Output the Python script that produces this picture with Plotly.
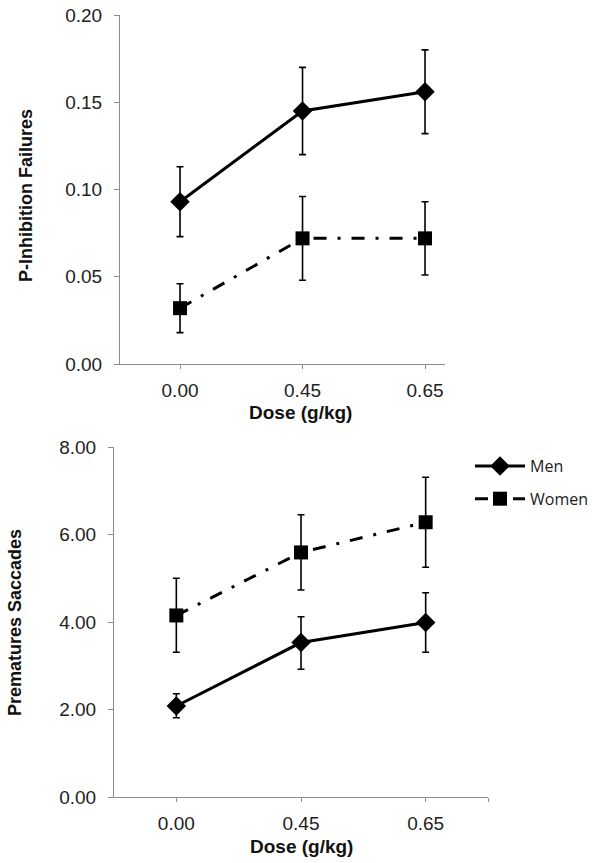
import plotly.graph_objects as go

W, H = 604, 863

doses = ["0.00", "0.45", "0.65"]
xpos = [0, 1, 2]

# Top panel: P-Inhibition Failures
pinh_men = [0.093, 0.145, 0.156]
pinh_men_up = [0.020, 0.025, 0.024]
pinh_men_dn = [0.020, 0.025, 0.024]
pinh_women = [0.032, 0.072, 0.072]
pinh_women_up = [0.014, 0.024, 0.021]
pinh_women_dn = [0.014, 0.024, 0.021]

# Bottom panel: Premature Saccades
sacc_men = [2.08, 3.53, 3.99]
sacc_men_up = [0.28, 0.59, 0.68]
sacc_men_dn = [0.27, 0.61, 0.68]
sacc_women = [4.15, 5.59, 6.28]
sacc_women_up = [0.85, 0.86, 1.03]
sacc_women_dn = [0.84, 0.86, 1.03]

DASHDOT = "13px,11px,3px,11px"
tickfont = dict(family="Liberation Sans, Arial", size=19, color="#222")
ytitlefont = dict(family="Liberation Sans, Arial", size=18, color="#111")
xtitlefont = dict(family="Liberation Sans, Arial", size=19, color="#111")
axcol = "#8c8c8c"

fig = go.Figure()

def add(y, up, dn, name, xa, ya, symbol, dash, show, group):
    fig.add_trace(go.Scatter(
        x=xpos, y=y, name=name, xaxis=xa, yaxis=ya, mode="lines+markers",
        line=dict(color="black", width=3, dash=dash),
        marker=dict(symbol=symbol, size=14 if symbol == "square" else 15, color="black"),
        error_y=dict(type="data", array=up, arrayminus=dn, color="black",
                     thickness=1.6, width=3.5),
        showlegend=show, legendgroup=group, cliponaxis=False))

add(pinh_men, pinh_men_up, pinh_men_dn, "Men", "x", "y", "diamond", "solid", False, "m")
add(pinh_women, pinh_women_up, pinh_women_dn, "Women", "x", "y", "square", DASHDOT, False, "w")
add(sacc_men, sacc_men_up, sacc_men_dn, "Men", "x2", "y2", "diamond", "solid", True, "m")
add(sacc_women, sacc_women_up, sacc_women_dn, "Women", "x2", "y2", "square", DASHDOT, True, "w")

def px_x(p): return p / W
def px_y(p): return 1 - p / H

common_x = dict(tickmode="array", ticks="outside", ticklen=4, tickcolor=axcol,
                showline=True, linecolor=axcol, linewidth=1, showgrid=False,
                zeroline=False, tickfont=tickfont, ticklabelstandoff=5,
                ticklabeloverflow="allow")
common_y = dict(ticks="outside", ticklen=5, tickcolor=axcol, showline=True,
                linecolor=axcol, linewidth=1, showgrid=False, zeroline=False,
                tickfont=tickfont, tickformat=".2f", ticklabelstandoff=8,
                ticklabeloverflow="allow")

def title(text, x, y, font, angle=0):
    return dict(text="<b>%s</b>" % text, textangle=angle, x=px_x(x), y=px_y(y),
                xref="paper", yref="paper", xanchor="center", yanchor="middle",
                showarrow=False, font=font)

fig.update_layout(
    width=W, height=H, margin=dict(l=0, r=0, t=0, b=0, autoexpand=False),
    paper_bgcolor="white", plot_bgcolor="white",
    xaxis=dict(domain=[px_x(120), px_x(445)], range=[-0.49, 2.163],
               tickvals=xpos, ticktext=doses, anchor="y", **common_x),
    yaxis=dict(domain=[px_y(364), px_y(15)], range=[0, 0.20], dtick=0.05,
               anchor="x", **common_y),
    xaxis2=dict(domain=[px_x(114), px_x(488)], range=[-0.5, 2.5],
                tickvals=xpos + [2.5], ticktext=doses + [""], anchor="y2", **common_x),
    yaxis2=dict(domain=[px_y(797), px_y(447)], range=[0, 8], dtick=2,
                anchor="x2", **common_y),
    legend=dict(x=px_x(470), y=px_y(449), xanchor="left", yanchor="top",
                itemwidth=50,
                font=dict(family="Open Sans", size=16, color="#222"),
                traceorder="grouped", tracegroupgap=9, bgcolor="rgba(0,0,0,0)"),
    annotations=[
        title("P-Inhibition Failures", 26, 196, ytitlefont, -90),
        title("Prematures Saccades", 15, 623, ytitlefont, -90),
        title("Dose (g/kg)", 300, 412, xtitlefont),
        title("Dose (g/kg)", 301, 846, xtitlefont),
    ],
)

fig.write_html("out.html", config={"displayModeBar": False},
               post_script="document.body.style.margin='0';document.body.style.padding='0';")
